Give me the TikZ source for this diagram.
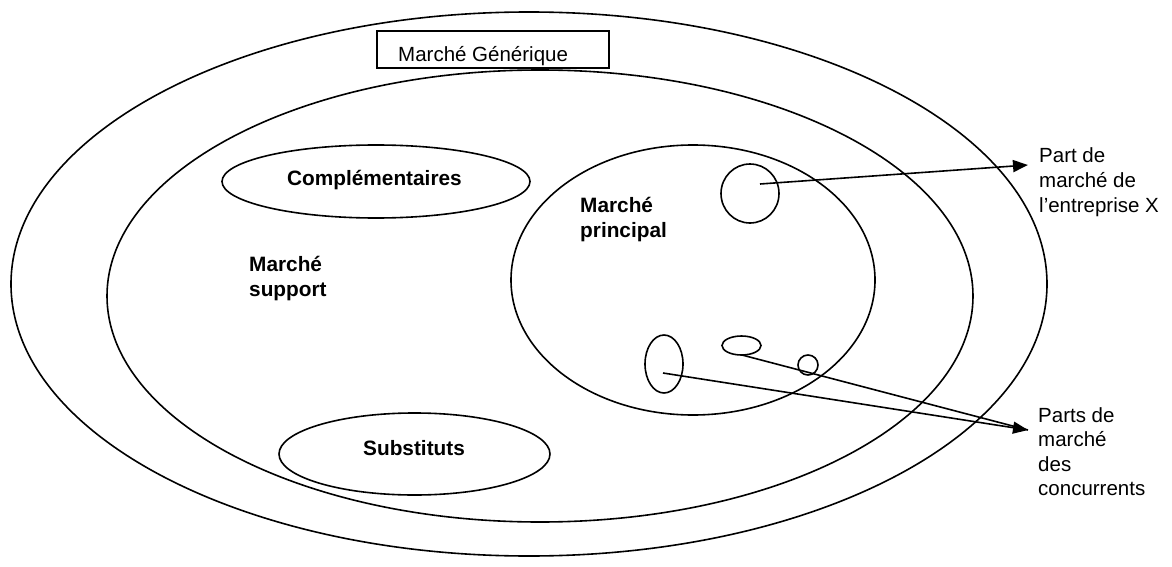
\documentclass[tikz,border=0pt]{standalone}
\usepackage{fontspec}
\setmainfont{Liberation Sans}
\usetikzlibrary{shapes.geometric,arrows.meta}
\begin{document}
\begin{tikzpicture}[x=1pt, y=-1pt,
		ell/.style={draw, ellipse, line width=1.6pt, inner sep=0pt},
		lbl/.style={anchor=base west, inner sep=0pt, align=left, font=\fontsize{20.5}{25}\selectfont},
		blbl/.style={lbl, font=\fontsize{20.8}{25}\selectfont\bfseries},
		conn/.style={line width=1.6pt}]
				\useasboundingbox (0,0) rectangle (1172,567);
				\node[ell, minimum width=1036pt, minimum height=544pt] (generique) at (529,284) {};
				\node[draw, fill=white, line width=1.6pt, minimum width=232pt, minimum height=37pt, inner sep=0pt] (titre) at (493,49.5) {};
				\node[lbl] (titretxt) at (398,62) {Marché Générique};
				\node[ell, minimum width=866pt, minimum height=452pt] (support) at (540,296) {};
				\node[ell, minimum width=308pt, minimum height=73pt] (compl) at (376,181.5) {};
				\node[ell, minimum width=271pt, minimum height=82pt] (subst) at (414.5,454) {};
				\node[ell, minimum width=364pt, minimum height=270pt] (principal) at (693,280) {};
				\node[ell, minimum width=58pt, minimum height=59pt] (partX) at (750,193.5) {};
				\node[ell, minimum width=38pt, minimum height=58pt] (concA) at (664,364) {};
				\node[ell, minimum width=39pt, minimum height=19pt] (concB) at (741.5,345.5) {};
				\node[ell, minimum width=20pt, minimum height=20pt] (concC) at (808,365) {};
				\node[blbl] (compltxt) at (287,185) {Complémentaires};
				\node[blbl] (substtxt) at (363,455) {Substituts};
				\node[blbl] (supporttxt) at (249,296) {Marché\\support};
				\node[blbl] (principaltxt) at (580,237) {Marché\\principal};
				\node[lbl] (partXtxt) at (1039,212) {Part de\\marché de\\l’entreprise X};
				\node[lbl, font=\fontsize{20.5}{24.5}\selectfont] (concurtxt) at (1038,495.5) {Parts de\\marché\\des\\concurrents};
				\coordinate (fromX) at (760,184);
				\coordinate (fromA) at (663,373);
				\coordinate (fromB) at (742,355);
				\coordinate (tipX) at (1028,165);
				\coordinate (tipC) at (1028,430);
				\draw[conn, -{Triangle[length=15pt, width=12pt]}] (fromX) -- (tipX);
				\draw[conn] (fromB) -- (tipC);
				\draw[conn, -{Triangle[length=15pt, width=12pt]}] (fromA) -- (tipC);
			\end{tikzpicture}
\end{document}
